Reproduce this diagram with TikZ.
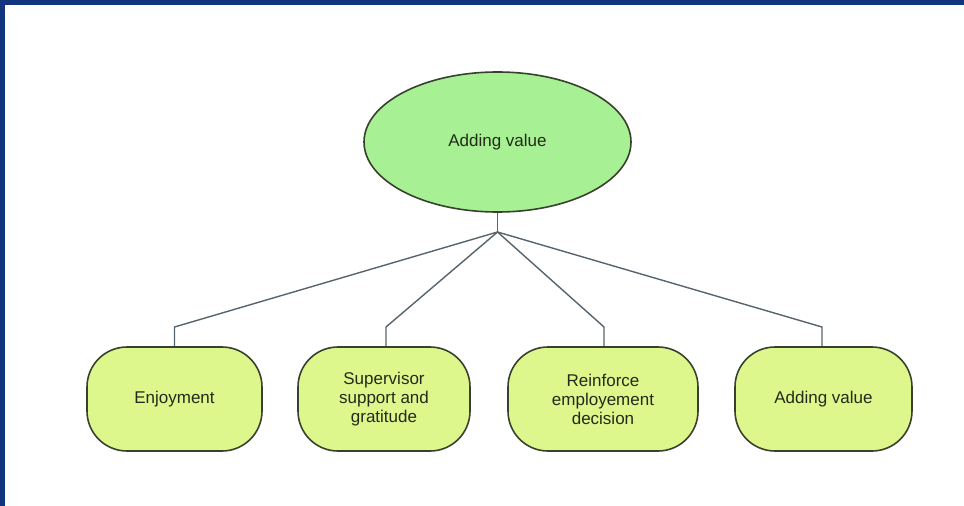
\documentclass[tikz,border=0pt]{standalone}
\usepackage{fontspec}
\setmainfont{Liberation Sans}
\usetikzlibrary{shapes.geometric}
\definecolor{frameblue}{RGB}{19,53,127}
\definecolor{ellfill}{RGB}{168,240,148}
\definecolor{boxfill}{RGB}{222,247,140}
\definecolor{edgecol}{RGB}{55,65,45}
\definecolor{linkcol}{RGB}{85,100,110}
\definecolor{txtcol}{RGB}{35,42,25}
\tikzset{
  topell/.style={ellipse, draw=edgecol, fill=ellfill, line width=1.6pt,
    minimum width=267pt, minimum height=140pt, inner sep=0pt,
    font=\fontsize{17}{19}\selectfont, text=txtcol},
  leafbox/.style={rectangle, rounded corners=40pt, draw=edgecol, fill=boxfill,
    line width=1.6pt, minimum height=104pt, inner sep=0pt, align=center,
    font=\fontsize{17}{19}\selectfont, text=txtcol},
  link/.style={draw=linkcol, line width=1.4pt}
}
\begin{document}
\begin{tikzpicture}[x=1pt,y=-1pt]
\useasboundingbox (0,0) rectangle (964,506);
\fill[white] (0,0) rectangle (964,506);
\fill[frameblue] (0,0) rectangle (964,5);
\fill[frameblue] (0,0) rectangle (5,506);

\node[topell] (top) at (497.5,142) {Adding value};
\node[leafbox, minimum width=175pt] (b1) at (174.5,399) {Enjoyment};
\node[leafbox, minimum width=172pt] (b2) at (384,399) {Supervisor\\support and\\gratitude};
\node[leafbox, minimum width=190pt] (b3) at (603,399) {Reinforce\\employement\\decision};
\node[leafbox, minimum width=177pt] (b4) at (823.5,399) {Adding value};

\coordinate (j) at (497.5,232);
\coordinate (k1) at (174.5,327);
\coordinate (k2) at (386,327);
\coordinate (k3) at (604,327);
\coordinate (k4) at (822,327);

\draw[link] (top.south) -- (j);
\draw[link] (j) -- (k1) -- (k1 |- b1.north);
\draw[link] (j) -- (k2) -- (k2 |- b2.north);
\draw[link] (j) -- (k3) -- (k3 |- b3.north);
\draw[link] (j) -- (k4) -- (k4 |- b4.north);
\end{tikzpicture}
\end{document}
